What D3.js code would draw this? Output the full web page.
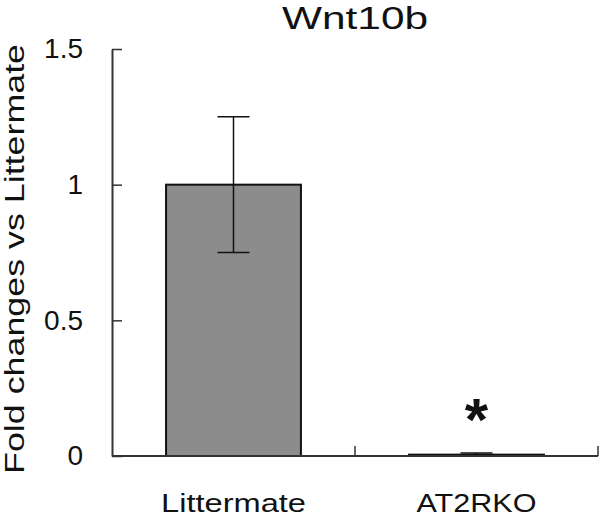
<!DOCTYPE html>
<html>
<head>
<meta charset="utf-8">
<script src="https://cdn.jsdelivr.net/npm/d3@7"></script>
<style>
  body { margin: 0; background: #fff; }
  text { font-family: "Liberation Sans", Arial, sans-serif; fill: #111; }
</style>
</head>
<body>
<div class="canvas"></div>
<script>
// data
const groups = ["Littermate", "AT2RKO"];
const means = [1.0, 0.005];
const errors = [0.25, 0.006];
const marks = ["", "*"];
const yTicks = [0, 0.5, 1, 1.5];
const yTickLabels = ["0", "0.5", "1", "1.5"];

const width = 600;
const height = 517;
const plotLeft = 112, plotRight = 598, plotTop = 49, plotBottom = 456;

const svg = d3
  .select(".canvas")
  .append("svg")
  .attr("width", width)
  .attr("height", height);

const x = d3.scaleBand().domain(groups).range([plotLeft, plotRight]);
const y = d3.scaleLinear().domain([0, 1.5]).range([plotBottom, plotTop]);
const barW = x.bandwidth() * 0.555;
const capW = 32;

// title
svg
  .append("text")
  .text("Wnt10b")
  .attr("x", (plotLeft + plotRight) / 2)
  .attr("y", 29)
  .attr("text-anchor", "middle")
  .attr("font-size", 32)
  .attr("textLength", 146)
  .attr("lengthAdjust", "spacingAndGlyphs");

// y label
svg
  .append("text")
  .text("Fold changes vs Littermate")
  .attr("transform", "translate(24," + 259 + ") rotate(-90)")
  .attr("text-anchor", "middle")
  .attr("font-size", 27)
  .attr("textLength", 430)
  .attr("lengthAdjust", "spacingAndGlyphs");

// bars
svg
  .selectAll("rect.bar")
  .data(groups)
  .enter()
  .append("rect")
  .attr("class", "bar")
  .attr("x", (d) => x(d) + (x.bandwidth() - barW) / 2)
  .attr("y", (d, i) => y(means[i]))
  .attr("width", barW)
  .attr("height", (d, i) => y(0) - y(means[i]))
  .attr("fill", "#8c8c8c")
  .attr("stroke", "#111")
  .attr("stroke-width", 2);

// error bars
groups.forEach((g, i) => {
  const cx = x(g) + x.bandwidth() / 2;
  const hi = y(means[i] + errors[i]);
  const lo = y(means[i] - errors[i]);
  const eb = svg.append("g").attr("stroke", "#111").attr("stroke-width", 1.5);
  eb.append("line").attr("x1", cx).attr("x2", cx).attr("y1", hi).attr("y2", lo);
  eb.append("line").attr("x1", cx - capW / 2).attr("x2", cx + capW / 2).attr("y1", hi).attr("y2", hi);
  eb.append("line").attr("x1", cx - capW / 2).attr("x2", cx + capW / 2).attr("y1", lo).attr("y2", lo);

  if (marks[i]) {
    svg
      .append("text")
      .text(marks[i])
      .attr("x", cx)
      .attr("y", 440)
      .attr("text-anchor", "middle")
      .attr("font-size", 60)
      .attr("font-weight", "bold");
  }
});

// y axis
const yAxis = d3
  .axisLeft(y)
  .tickValues(yTicks)
  .tickFormat((d, i) => yTickLabels[i])
  .tickSizeInner(-10)
  .tickSizeOuter(0)
  .tickPadding(29);

const yg = svg.append("g").attr("transform", "translate(" + plotLeft + ",0)").call(yAxis);
yg.select(".domain").attr("stroke", "#333").attr("stroke-width", 2);
yg.selectAll(".tick line").attr("stroke", "#333").attr("stroke-width", 1.5);
yg.selectAll(".tick text").attr("font-size", 28).attr("font-family", "Liberation Sans, Arial, sans-serif").attr("fill", "#111");

// x axis: baseline with ticks at band edges
svg
  .append("line")
  .attr("x1", plotLeft)
  .attr("x2", plotRight)
  .attr("y1", y(0))
  .attr("y2", y(0))
  .attr("stroke", "#333")
  .attr("stroke-width", 2);

svg
  .selectAll("line.xtick")
  .data(groups)
  .enter()
  .append("line")
  .attr("class", "xtick")
  .attr("x1", (d) => x(d) + x.bandwidth())
  .attr("x2", (d) => x(d) + x.bandwidth())
  .attr("y1", y(0))
  .attr("y2", y(0) - 10)
  .attr("stroke", "#333")
  .attr("stroke-width", 1.5);

svg
  .selectAll("text.xlabel")
  .data(groups)
  .enter()
  .append("text")
  .attr("class", "xlabel")
  .text((d) => d)
  .attr("x", (d) => x(d) + x.bandwidth() / 2)
  .attr("y", 512)
  .attr("text-anchor", "middle")
  .attr("font-size", 26)
  .attr("textLength", (d, i) => (i === 0 ? 145 : 120))
  .attr("lengthAdjust", "spacingAndGlyphs");
</script>
</body>
</html>
